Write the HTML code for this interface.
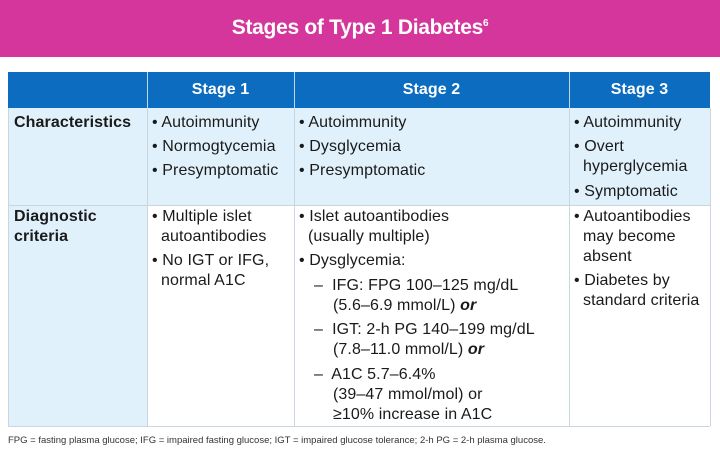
<!DOCTYPE html>
<html><head><meta charset="utf-8"><style>
body{margin:0;width:720px;height:457px;background:#fff;position:relative;overflow:hidden;font-family:"Liberation Sans",Arial,sans-serif;color:#1a1a1a}
.ban{position:absolute;left:0;top:0;width:720px;height:57px;background:#d5369c}
.title{position:absolute;left:0;top:16px;width:720px;text-align:center;color:#fff;font-size:21px;font-weight:bold;letter-spacing:-0.3px}
.title sup{font-size:10px}
.box{position:absolute}
.t{position:absolute;font-size:16px;line-height:18px;white-space:nowrap;letter-spacing:0.1px}
.b{font-weight:bold}
.h{color:#fff;font-weight:bold;font-size:16px;text-align:center}
.fn{position:absolute;left:8px;top:435px;font-size:9.5px;color:#333;white-space:nowrap}
</style></head><body>
<div class="ban"></div>
<div class="title">Stages of Type 1 Diabetes<sup>6</sup></div>
<div class="box" style="left:8px;top:72px;width:702px;height:36px;background:#0b6cc0"></div>
<div class="box" style="left:147px;top:72px;width:1px;height:36px;background:#bcd7ee"></div>
<div class="box" style="left:294px;top:72px;width:1px;height:36px;background:#bcd7ee"></div>
<div class="box" style="left:569px;top:72px;width:1px;height:36px;background:#bcd7ee"></div>
<div class="t h" style="left:147px;top:81px;width:147px">Stage 1</div>
<div class="t h" style="left:294px;top:81px;width:275px">Stage 2</div>
<div class="t h" style="left:569px;top:81px;width:141px">Stage 3</div>
<div class="box" style="left:8px;top:108px;width:702px;height:97px;background:#e1f1fb"></div>
<div class="box" style="left:8px;top:205px;width:139px;height:221px;background:#e1f1fb"></div>
<div class="box" style="left:8px;top:205px;width:702px;height:1px;background:#c9d6df"></div>
<div class="box" style="left:8px;top:426px;width:702px;height:1px;background:#c9d6df"></div>
<div class="box" style="left:147px;top:108px;width:1px;height:318px;background:#c9d6df"></div>
<div class="box" style="left:294px;top:108px;width:1px;height:318px;background:#c9d6df"></div>
<div class="box" style="left:569px;top:108px;width:1px;height:318px;background:#c9d6df"></div>
<div class="box" style="left:710px;top:108px;width:1px;height:318px;background:#c9d6df"></div>
<div class="box" style="left:8px;top:108px;width:1px;height:318px;background:#c9d6df"></div>

<div class="t b" style="left:14px;top:114px">Characteristics</div>
<div class="t b" style="left:14px;top:208px">Diagnostic</div>
<div class="t b" style="left:14px;top:228px">criteria</div>

<div class="t" style="left:152px;top:114px">• Autoimmunity</div>
<div class="t" style="left:152px;top:138px">• Normogtycemia</div>
<div class="t" style="left:152px;top:162px">• Presymptomatic</div>
<div class="t" style="left:152px;top:208px">• Multiple islet</div>
<div class="t" style="left:161px;top:228px">autoantibodies</div>
<div class="t" style="left:152px;top:252px">• No IGT or IFG,</div>
<div class="t" style="left:161px;top:272px">normal A1C</div>

<div class="t" style="left:299px;top:114px">• Autoimmunity</div>
<div class="t" style="left:299px;top:138px">• Dysglycemia</div>
<div class="t" style="left:299px;top:162px">• Presymptomatic</div>
<div class="t" style="left:299px;top:208px">• Islet autoantibodies</div>
<div class="t" style="left:308px;top:228px">(usually multiple)</div>
<div class="t" style="left:299px;top:252px">• Dysglycemia:</div>
<div class="t" style="left:314px;top:277px">–&nbsp; IFG: FPG 100–125 mg/dL</div>
<div class="t" style="left:333px;top:297px">(5.6–6.9 mmol/L) <b><i>or</i></b></div>
<div class="t" style="left:314px;top:321px">–&nbsp; IGT: 2-h PG 140–199 mg/dL</div>
<div class="t" style="left:333px;top:341px">(7.8–11.0 mmol/L) <b><i>or</i></b></div>
<div class="t" style="left:314px;top:366px">–&nbsp; A1C 5.7–6.4%</div>
<div class="t" style="left:333px;top:386px">(39–47 mmol/mol) or</div>
<div class="t" style="left:333px;top:406px">≥10% increase in A1C</div>

<div class="t" style="left:574px;top:114px">• Autoimmunity</div>
<div class="t" style="left:574px;top:138px">• Overt</div>
<div class="t" style="left:583px;top:158px">hyperglycemia</div>
<div class="t" style="left:574px;top:183px">• Symptomatic</div>
<div class="t" style="left:574px;top:208px">• Autoantibodies</div>
<div class="t" style="left:583px;top:228px">may become</div>
<div class="t" style="left:583px;top:248px">absent</div>
<div class="t" style="left:574px;top:272px">• Diabetes by</div>
<div class="t" style="left:583px;top:292px">standard criteria</div>

<div class="fn">FPG = fasting plasma glucose; IFG = impaired fasting glucose; IGT = impaired glucose tolerance; 2-h PG = 2-h plasma glucose.</div>
</body></html>
